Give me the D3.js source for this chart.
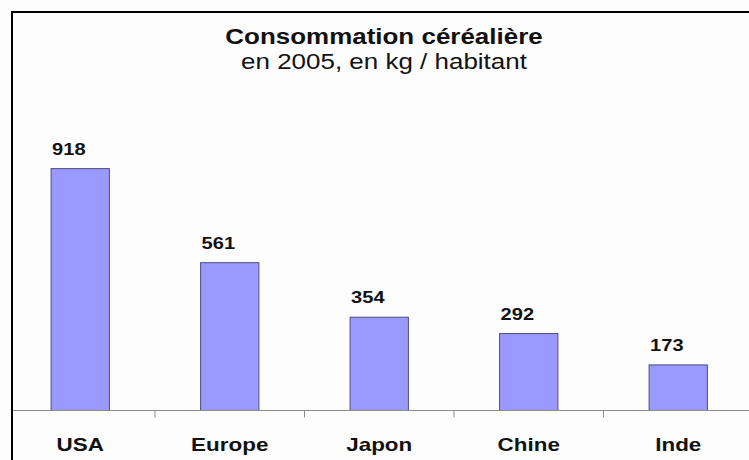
<!DOCTYPE html>
<html>
<head>
<meta charset="utf-8">
<script src="https://cdn.jsdelivr.net/npm/d3@7"></script>
<style>
  body { margin: 0; background: #fff; }
  text { font-family: Arial, "Liberation Sans", sans-serif; fill: #111; }
</style>
</head>
<body>
<script>
const categories = ['USA', 'Europe', 'Japon', 'Chine', 'Inde']
const values = [918, 561, 354, 292, 173]
const title = 'Consommation céréalière'
const subtitle = 'en 2005, en kg / habitant'

const m = { width: 749, height: 460 }
const stretch = 1.18  // the original picture is a bit wider than its fonts

const svg = d3.select('body').append('svg')
    .attr('width', m.width)
    .attr('height', m.height)

svg.append('rect')
    .attr('width', m.width).attr('height', m.height)
    .attr('fill', '#fdfdfd')

// frame, runs off the right and bottom edges
svg.append('rect')
    .attr('x', 12).attr('y', 12)
    .attr('width', 800).attr('height', 500)
    .attr('fill', 'none')
    .attr('stroke', '#000')
    .attr('stroke-width', 2)

const x = d3.scaleBand()
    .domain(categories)
    .range([5.5, 753])
    .paddingInner(0.61)
    .paddingOuter(0.305)

const y = d3.scaleLinear()
    .domain([0, 1000])
    .range([410.5, 147])

// widen a text element by the stretch factor
function widen(sel) {
  sel.each(function() {
    const len = this.getComputedTextLength()
    d3.select(this)
      .attr('textLength', len * stretch)
      .attr('lengthAdjust', 'spacingAndGlyphs')
  })
}

svg.append('text')
    .attr('x', 384).attr('y', 43.5)
    .attr('text-anchor', 'middle')
    .attr('font-size', 22)
    .attr('font-weight', 'bold')
    .text(title)
    .call(widen)

svg.append('text')
    .attr('x', 384).attr('y', 68.5)
    .attr('text-anchor', 'middle')
    .attr('font-size', 22)
    .text(subtitle)
    .call(widen)

const data = categories.map((c, i) => ({ cat: c, val: values[i] }))

svg.selectAll('.bar')
    .data(data)
    .enter()
    .append('rect')
        .attr('class', 'bar')
        .attr('x', d => x(d.cat))
        .attr('y', d => y(d.val))
        .attr('width', x.bandwidth())
        .attr('height', d => y(0) - y(d.val))
        .attr('fill', '#9999ff')
        .attr('stroke', '#4d4d80')
        .attr('stroke-width', 1)

svg.selectAll('.val')
    .data(data)
    .enter()
    .append('text')
        .attr('class', 'val')
        .attr('x', d => x(d.cat) + 1)
        .attr('y', d => y(d.val) - 14)
        .attr('font-size', 17)
        .attr('font-weight', 'bold')
        .text(d => d.val)
        .call(widen)

// axis line and ticks between categories
svg.append('line')
    .attr('x1', 13).attr('x2', m.width)
    .attr('y1', y(0)).attr('y2', y(0))
    .attr('stroke', '#8c8c8c')
    .attr('stroke-width', 1)

const bounds = categories.slice(1).map(c => x(c) - x.step() * x.paddingInner() / 2)
svg.selectAll('.tick')
    .data(bounds)
    .enter()
    .append('line')
        .attr('x1', d => d).attr('x2', d => d)
        .attr('y1', y(0)).attr('y2', y(0) + 7)
        .attr('stroke', '#8c8c8c')

svg.selectAll('.cat')
    .data(categories)
    .enter()
    .append('text')
        .attr('class', 'cat')
        .attr('x', d => x(d) + x.bandwidth() / 2)
        .attr('y', 451)
        .attr('text-anchor', 'middle')
        .attr('font-size', 19)
        .attr('font-weight', 'bold')
        .text(d => d)
        .call(widen)
</script>
</body>
</html>
